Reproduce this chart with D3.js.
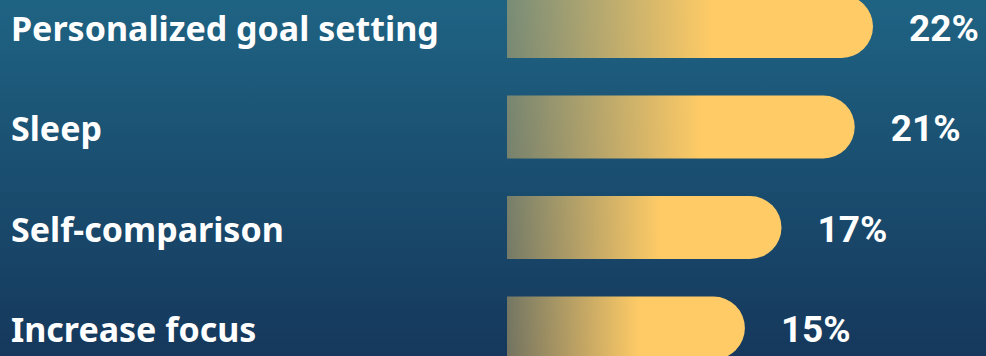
<!DOCTYPE html>
<html>
<head>
<meta charset="utf-8">
<script src="https://cdn.jsdelivr.net/npm/d3@7"></script>
<style>
  html, body { margin: 0; padding: 0; background: #163a5e; }
  svg { display: block; }
</style>
</head>
<body>
<div id="chart"></div>
<script>
const categories = ["Personalized goal setting", "Sleep", "Self-comparison", "Increase focus"]
const values = [22, 21, 17, 15]
const valueLabels = ["22%", "21%", "17%", "15%"]

const width = 986
const height = 356
const barHeight = 63
const barX = 507

const svg = d3.select("#chart").append("svg")
  .attr("width", width)
  .attr("height", height)

const defs = svg.append("defs")

const bg = defs.append("linearGradient")
  .attr("id", "bg")
  .attr("x1", 0).attr("y1", 0).attr("x2", 0).attr("y2", 1)
bg.append("stop").attr("offset", 0).attr("stop-color", "#1f6383")
bg.append("stop").attr("offset", 1).attr("stop-color", "#15385c")

const barGrad = defs.append("linearGradient")
  .attr("id", "barGrad")
  .attr("x1", 0).attr("y1", 0).attr("x2", 1).attr("y2", 0)
barGrad.append("stop").attr("offset", 0).attr("stop-color", "#ffcb66").attr("stop-opacity", 0.4)
barGrad.append("stop").attr("offset", 0.56).attr("stop-color", "#ffcb66").attr("stop-opacity", 1)
barGrad.append("stop").attr("offset", 1).attr("stop-color", "#ffcb66").attr("stop-opacity", 1)

svg.append("rect")
  .attr("width", width)
  .attr("height", height)
  .attr("fill", "url(#bg)")

// row centres
const y = d3.scalePoint()
  .domain(categories)
  .range([26.5, 328])

// bar length
const x = d3.scaleLinear()
  .domain([2, 22])
  .range([0, 366])

const rows = svg.selectAll("g.row")
  .data(categories.map((c, i) => ({ name: c, value: values[i], label: valueLabels[i] })))
  .enter()
  .append("g")
  .attr("class", "row")
  .attr("transform", d => `translate(0,${y(d.name)})`)

const barPath = function(d) {
  const r = barHeight / 2
  const x1 = barX + x(d.value)
  const top = -barHeight / 2
  return `M${barX},${top} L${x1 - r},${top} A${r},${r} 0 0 1 ${x1 - r},${top + barHeight} L${barX},${top + barHeight} Z`
}

rows.append("path")
  .attr("d", barPath)
  .attr("fill", "url(#barGrad)")

rows.append("text")
  .attr("x", 11)
  .attr("y", 14)
  .text(d => d.name)
  .style("font-family", "'Noto Sans', 'Open Sans', sans-serif")
  .style("font-weight", 700)
  .style("font-size", "34px")
  .style("fill", "white")

rows.append("text")
  .attr("x", d => barX + x(d.value) + 36)
  .attr("y", 14)
  .text(d => d.label)
  .style("font-family", "Roboto, sans-serif")
  .style("font-weight", 700)
  .style("font-size", "37px")
  .style("fill", "white")
</script>
</body>
</html>
